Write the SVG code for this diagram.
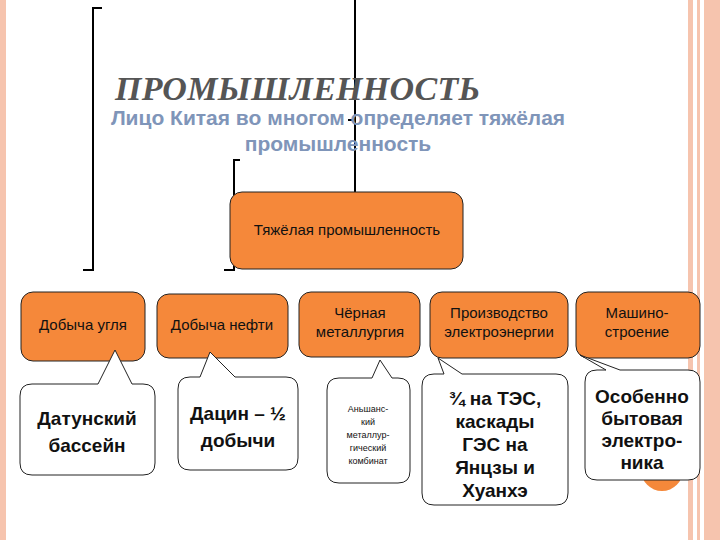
<svg xmlns="http://www.w3.org/2000/svg" width="720" height="540" viewBox="0 0 720 540">
<style>
.box{fill:#f5883a;stroke:#222;stroke-width:1}
.call{fill:#fff;stroke:#222;stroke-width:1}
.bt{font-family:"Liberation Sans",Arial,sans-serif;font-size:15px;fill:#111;text-anchor:middle}
.ct{font-family:"Liberation Sans",Arial,sans-serif;font-weight:bold;font-size:19px;fill:#111;text-anchor:middle}
.ln{stroke:#000;stroke-width:2;fill:none}
</style>
<rect width="720" height="540" fill="#fff"/>
<rect x="0" y="0" width="6" height="540" fill="#f6c4ae"/>
<rect x="688" y="0" width="5" height="540" fill="#f6c4ae"/>
<rect x="697" y="0" width="3" height="540" fill="#f6c4ae"/>
<rect x="704" y="0" width="16" height="540" fill="#f6c4ae"/>
<g id="connectors">
<path class="ln" d="M102,8 H93 V270 H83"/>
<path class="ln" d="M355,0 V268 H365"/>
<path class="ln" d="M348,120 H355"/>
<path class="ln" d="M240,160 H234 V270 H224"/>
</g>
<text x="115" y="100" font-family="Liberation Serif,serif" font-style="italic" font-weight="bold" font-size="34" fill="#555" textLength="365">ПРОМЫШЛЕННОСТЬ</text>
<text font-family="Liberation Sans,Arial,sans-serif" font-weight="bold" font-size="21" fill="#7f95b9" text-anchor="middle"><tspan x="338" y="125">Лицо Китая во многом определяет тяжёлая</tspan><tspan x="338" y="151">промышленность</tspan></text>
<g id="heavy"><rect class="box" x="230" y="192" width="233" height="77" rx="12"/><text class="bt" x="347" y="235">Тяжёлая промышленность</text></g>
<circle cx="662" cy="470" r="21" fill="#f5883a"/>
<g id="coal"><rect class="box" x="21" y="292" width="124" height="69" rx="12"/><text class="bt" x="83" y="330">Добыча угля</text></g>
<g id="oil"><rect class="box" x="157" y="294" width="131" height="64" rx="12"/><text class="bt" x="222" y="330">Добыча нефти</text></g>
<g id="metal"><rect class="box" x="299" y="292" width="121" height="65" rx="12"/><text class="bt" x="360" y="318">Чёрная</text><text class="bt" x="360" y="337">металлургия</text></g>
<g id="energy"><rect class="box" x="430" y="292" width="138" height="66" rx="12"/><text class="bt" x="499" y="318">Производство</text><text class="bt" x="499" y="337">электроэнергии</text></g>
<g id="mach"><rect class="box" x="576" y="292" width="124" height="66" rx="12"/><text class="bt" x="637" y="318">Машино-</text><text class="bt" x="637" y="337">строение</text></g>
<g id="c1"><path class="call" d="M32,384 H98 L115,350 L132,384 H143 Q155,384 155,396 V463 Q155,475 143,475 H32 Q20,475 20,463 V396 Q20,384 32,384 Z"/><text class="ct" x="87" y="425">Датунский</text><text class="ct" x="87" y="452">бассейн</text></g>
<g id="c2"><path class="call" d="M190,377 H200 L210,352 L235,377 H286 Q298,377 298,389 V458 Q298,470 286,470 H190 Q178,470 178,458 V389 Q178,377 190,377 Z"/><text class="ct" x="238" y="420">Дацин – ½</text><text class="ct" x="238" y="447">добычи</text></g>
<g id="c3"><path class="call" d="M339,378 H372 L380,360 L392,378 H398 Q410,378 410,390 V471 Q410,483 398,483 H339 Q327,483 327,471 V390 Q327,378 339,378 Z"/><g font-family="Liberation Sans,Arial,sans-serif" font-size="9" fill="#111" text-anchor="middle"><text x="368" y="412">Аньшанс-</text><text x="368" y="425">кий</text><text x="368" y="438">металлур-</text><text x="368" y="451">гический</text><text x="368" y="464">комбинат</text></g></g>
<g id="c4"><path class="call" d="M434,374 H444 L438,358 L462,374 H556 Q568,374 568,386 V493 Q568,505 556,505 H434 Q422,505 422,493 V386 Q422,374 434,374 Z"/><text class="ct" x="495" y="405">¾ на ТЭС,</text><text class="ct" x="495" y="428">каскады</text><text class="ct" x="495" y="451">ГЭС на</text><text class="ct" x="495" y="474">Янцзы и</text><text class="ct" x="495" y="497">Хуанхэ</text></g>
<g id="c5"><path class="call" d="M597,370 H606 L580,355 L620,370 H688 Q700,370 700,382 V468 Q700,480 688,480 H597 Q585,480 585,468 V382 Q585,370 597,370 Z"/><text class="ct" x="642" y="403" font-size="18">Особенно</text><text class="ct" x="642" y="425" font-size="18">бытовая</text><text class="ct" x="642" y="447" font-size="18">электро-</text><text class="ct" x="642" y="469" font-size="18">ника</text></g>
</svg>
